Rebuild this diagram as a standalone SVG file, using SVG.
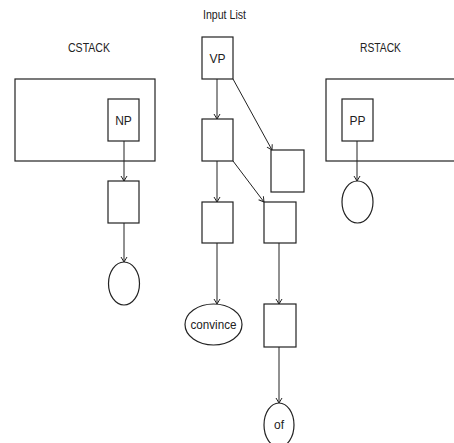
<svg xmlns="http://www.w3.org/2000/svg" width="454" height="443" viewBox="0 0 454 443">
<defs>
<marker id="arr" markerWidth="8" markerHeight="8" refX="7" refY="4" orient="auto" markerUnits="userSpaceOnUse">
<path d="M2,1 L7,4 L2,7" fill="none" stroke="#222" stroke-width="1"/>
</marker>
</defs>
<style>
rect,ellipse{fill:#fff;stroke:#222;stroke-width:1.2}
.c line{stroke:#222;stroke-width:1}
text{font-family:"Liberation Sans",Arial,sans-serif;font-size:12px;fill:#222;text-anchor:middle}
</style>
<rect width="454" height="443" style="stroke:none"/>
<g id="labels">
<text x="224.5" y="19" textLength="43" lengthAdjust="spacingAndGlyphs">Input List</text>
<text x="89" y="52" textLength="42" lengthAdjust="spacingAndGlyphs">CSTACK</text>
<text x="380.5" y="52" textLength="41" lengthAdjust="spacingAndGlyphs">RSTACK</text>
</g>
<g id="cstack"><rect x="15" y="79" width="140" height="82"/></g>
<g id="rstack"><rect x="326" y="79" width="140" height="82"/></g>
<g class="c" id="connectors">
<line x1="124" y1="141" x2="124" y2="181" marker-end="url(#arr)"/>
<line x1="124" y1="223" x2="124" y2="262" marker-end="url(#arr)"/>
<line x1="217" y1="79" x2="217" y2="119" marker-end="url(#arr)"/>
<line x1="217" y1="161" x2="217" y2="202" marker-end="url(#arr)"/>
<line x1="217" y1="243" x2="217" y2="304" marker-end="url(#arr)"/>
<line x1="233" y1="79" x2="272" y2="150" marker-end="url(#arr)"/>
<line x1="233" y1="161" x2="264" y2="202" marker-end="url(#arr)"/>
<line x1="279" y1="243" x2="279" y2="304" marker-end="url(#arr)"/>
<line x1="279" y1="347" x2="279" y2="403" marker-end="url(#arr)"/>
<line x1="357" y1="141" x2="357" y2="181" marker-end="url(#arr)"/>
</g>
<g id="np"><rect x="108" y="99" width="31" height="42"/><text x="123.5" y="125">NP</text></g>
<g id="c1"><rect x="108" y="181" width="31" height="42"/></g>
<g id="c2"><ellipse cx="124" cy="283.5" rx="15.5" ry="21.5"/></g>
<g id="vp"><rect x="202" y="37" width="31" height="42"/><text x="217.5" y="63">VP</text></g>
<g id="i1"><rect x="202" y="119" width="31" height="42"/></g>
<g id="i2"><rect x="202" y="202" width="31" height="41"/></g>
<g id="convince"><ellipse cx="213.5" cy="324.5" rx="28.5" ry="20.5"/><text x="213.5" y="329" textLength="46" lengthAdjust="spacingAndGlyphs">convince</text></g>
<g id="r1"><rect x="271" y="150" width="33" height="42"/></g>
<g id="o1"><rect x="264" y="202" width="32" height="41"/></g>
<g id="o2"><rect x="264" y="304" width="32" height="43"/></g>
<g id="of"><ellipse cx="279" cy="425" rx="15" ry="22"/><text x="279" y="429">of</text></g>
<g id="pp"><rect x="342" y="99" width="31" height="42"/><text x="357.5" y="125">PP</text></g>
<g id="p1"><ellipse cx="357.5" cy="202" rx="15.5" ry="21"/></g>
</svg>
